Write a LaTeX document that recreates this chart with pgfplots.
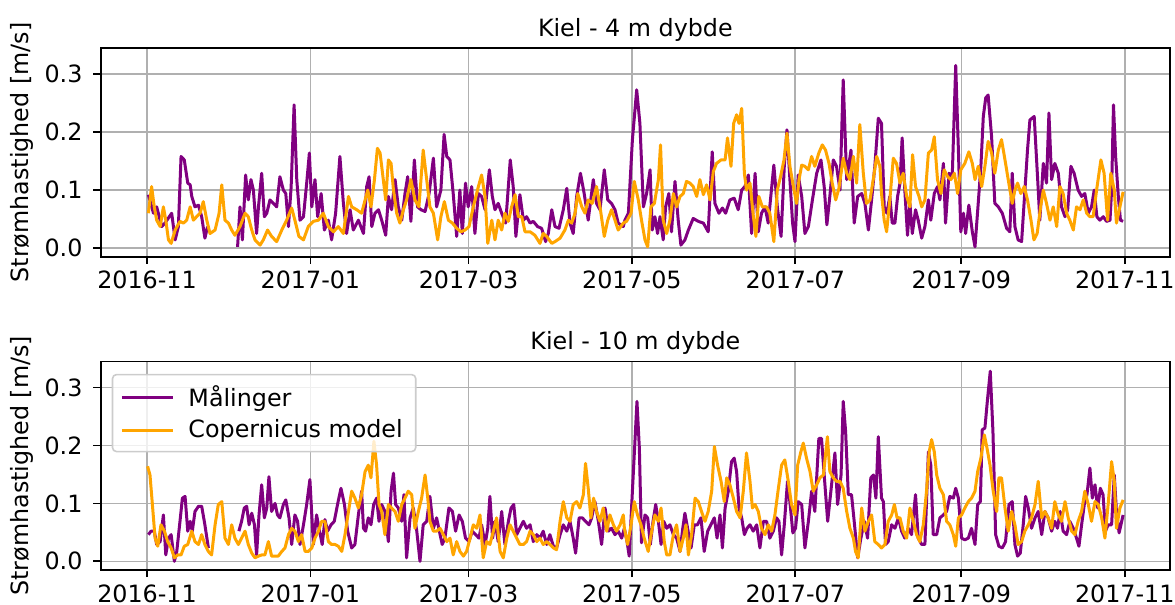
\documentclass[border=0pt]{standalone}
\usepackage{pgfplots}
\pgfplotsset{compat=1.18}
\usepackage{fontspec}
\setmainfont{DejaVu Sans}
\definecolor{gridc}{HTML}{B0B0B0}
\definecolor{mpurple}{HTML}{800080}
\definecolor{morange}{HTML}{FFA500}
\newcommand{\chartfont}{\fontsize{11.9}{14}\selectfont}
\pgfplotsset{kiel/.style={
  scale only axis, width=534.65pt, height=104.3pt, anchor=south west,
  xmin=-17.3, xmax=381.9, ymin=-0.015, ymax=0.345,
  xtick={0,61,120,181,242,304,365},
  xticklabels={2016-11,2017-01,2017-03,2017-05,2017-07,2017-09,2017-11},
  ytick={0,0.1,0.2,0.3}, yticklabels={0.0,0.1,0.2,0.3},
  grid=major, grid style={color=gridc, line width=0.8pt},
  axis line style={line width=0.85pt},
  tick align=outside, major tick length=3.6pt,
  tick style={black, line width=0.85pt},
  xtick pos=left, ytick pos=left,
  ticklabel style={font=\chartfont},
  xticklabel style={inner ysep=0pt, yshift=-3.5pt},
  yticklabel style={xshift=-2pt},
  ylabel={Strømhastighed [m/s]},
  ylabel style={font=\chartfont, at={(axis description cs:-0.0736,0.5)}, anchor=center},
  title style={font=\chartfont, at={(axis description cs:0.5,1)}, anchor=base, yshift=0pt},
  unbounded coords=jump,
  every axis plot/.append style={line width=1.5pt, line join=round},
}}
\begin{document}
\begin{tikzpicture}
\path[use as bounding box] (0,0) rectangle (587.5pt,302.5pt);
\begin{axis}[kiel, at={(50.35pt,174.15pt)}, title={Kiel - 4 m dybde}]
\addplot[mpurple] coordinates {(0.5,0.092)(2.4,0.060)(3.6,0.071)(5.5,0.037)(6.7,0.043)(9.2,0.060)(10.5,0.014)(11.7,0.037)(12.7,0.158)(13.9,0.152)(15.2,0.112)(16.1,0.109)(16.7,0.089)(17.9,0.071)(19.2,0.074)(20.4,0.054)(21.6,0.017)(22.6,0.037)(28,nan)(33.8,0.002)(34.7,0.071)(35.6,0.014)(36.8,0.126)(37.8,0.083)(38.8,0.118)(39.7,0.100)(40.9,0.025)(41.6,0.071)(42.8,0.129)(43.8,0.054)(44.7,0.060)(45.9,0.083)(47.2,0.077)(48.4,0.071)(49.6,0.123)(50.9,0.100)(51.8,0.094)(52.8,0.037)(53.8,0.106)(54.9,0.247)(55.9,0.118)(57.1,0.048)(58.4,0.054)(59.6,0.112)(60.6,0.164)(61.5,0.071)(62.7,0.118)(63.7,0.054)(65.0,0.094)(66.2,0.031)(67.7,0.048)(68.9,0.014)(70.4,0.060)(72.0,0.158)(73.3,0.077)(74.5,0.025)(75.8,0.066)(77.0,0.031)(78.9,0.048)(80.8,0.025)
(82.0,0.106)(82.9,0.123)(83.9,0.037)(85.1,0.060)(86.4,0.066)(87.6,0.048)(89.1,0.022)(90.1,0.089)(91.3,0.066)(92.6,0.118)(93.8,0.071)(95.1,0.048)(96.3,0.094)(97.3,0.123)(98.5,0.046)(99.8,0.152)(101.0,0.071)(102.3,0.066)(103.8,0.063)(105.3,0.094)(106.9,0.155)(108.1,0.071)(109.7,0.100)(110.9,0.196)(111.9,0.158)(113.1,0.152)(114.3,0.094)(115.6,0.020)(116.8,0.100)(117.7,0.025)(118.9,0.112)(119.9,0.071)(121.2,0.106)(122.4,0.025)(123.7,0.094)(124.9,0.089)(126.2,0.066)(127.8,0.135)(128.9,0.089)(129.9,0.066)(131.1,0.077)(132.4,0.060)(133.9,0.043)(135.6,0.152)(136.7,0.106)(137.7,0.020)(139.2,0.092)(140.5,0.048)(141.7,0.054)(143.0,0.043)(144.2,0.046)(145.8,0.037)(147.3,0.034)(148.8,0.011)(149.8,0.025)(151.1,0.066)(152.3,0.037)(153.8,0.034)(155.4,0.066)(156.7,0.103)(157.9,0.043)(159.1,0.025)(160.4,0.089)(161.8,0.129)(163.2,0.094)(164.7,0.048)(166.6,0.118)(167.8,0.077)(169.1,0.066)(170.7,0.135)(172.0,0.083)(173.4,0.077)(174.7,0.066)(175.9,0.043)(177.8,0.037)
(178.4,0.048)(179.7,0.060)(181.2,0.187)(182.8,0.273)(184.0,0.215)(185.3,0.071)(186.5,0.094)(187.8,0.135)(188.6,0.031)(189.6,0.054)(190.6,0.025)(191.5,0.054)(192.7,0.014)(193.6,0.071)(194.8,0.094)(195.8,0.028)(197.1,0.115)(198.3,0.048)(199.3,0.005)(200.8,0.014)(202.1,0.031)(203.9,0.051)(205.8,0.046)(207.7,0.043)(209.5,0.028)(211.0,0.166)(212.0,0.077)(213.5,0.060)(214.8,0.069)(216.0,0.060)(217.6,0.083)(219.2,0.086)(220.7,0.066)(222.0,0.100)(223.2,0.106)(224.5,0.126)(225.7,0.025)(227.0,0.129)(228.2,0.028)(229.4,0.060)(230.7,0.071)(231.9,0.043)(234.0,0.143)(235.3,0.071)(236.7,0.020)(237.9,0.141)(238.9,0.204)(240.0,0.118)(241.0,0.043)(241.9,0.011)(243.1,0.126)(244.4,0.089)(245.6,0.025)(246.9,0.037)(248.4,0.083)(250.0,0.129)(251.6,0.152)(252.8,0.106)(253.8,0.040)(254.9,0.089)(256.2,0.152)(257.4,0.141)(258.7,0.100)(259.9,0.290)(261.2,0.118)(262.8,0.169)(264.0,0.043)(265.3,0.089)(266.8,0.094)(268.0,0.077)(269.3,0.031)(270.5,0.083)(271.7,0.141)(273.0,0.224)(274.2,0.215)
(275.2,0.071)(276.2,0.060)(277.3,0.089)(278.2,0.043)(279.2,0.043)(280.2,0.089)(281.1,0.112)(281.9,0.190)(282.9,0.100)(283.9,0.022)(284.8,0.077)(285.7,0.025)(286.9,0.066)(287.9,0.048)(289.2,0.017)(290.4,0.037)(291.7,0.083)(292.6,0.048)(293.9,0.094)(295.1,0.106)(296.0,0.083)(297.3,0.146)(298.1,0.043)(299.4,0.129)(300.6,0.123)(301.9,0.315)(302.9,0.169)(303.8,0.028)(304.8,0.060)(305.6,0.025)(306.8,0.074)(308.1,0.028)(309.1,0.002)(310.3,0.077)(311.3,0.141)(312.2,0.227)(313.1,0.259)(314.0,0.264)(315.3,0.192)(316.5,0.077)(317.8,0.071)(319.3,0.060)(320.9,0.034)(322.1,0.028)(323.0,0.129)(324.0,0.037)(325.2,0.014)(326.5,0.011)(327.5,0.083)(328.7,0.169)(329.6,0.221)(331.2,0.227)(332.5,0.118)(333.3,0.048)(334.6,0.146)(335.8,0.112)(336.7,0.233)(337.7,0.118)(338.9,0.146)(340.2,0.129)(341.4,0.071)(342.7,0.054)(343.7,0.066)(344.9,0.141)(346.1,0.129)(347.6,0.100)(348.9,0.089)(350.1,0.094)(351.4,0.060)(352.6,0.071)(353.6,0.100)(354.6,0.054)(355.7,0.048)(357.0,0.054)(358.2,0.046)(359.5,0.048)(360.1,0.100)(360.8,0.247)(361.6,0.158)(362.6,0.089)(363.4,0.048)(364.4,0.046)};
\addplot[morange] coordinates {(0.5,0.060)(1.7,0.106)(2.7,0.071)(3.6,0.048)(4.9,0.037)(6.1,0.071)(7.0,0.048)(8.0,0.014)(9.0,0.008)(10.5,0.031)(12.3,0.046)(13.6,0.043)(14.8,0.048)(16.1,0.071)(17.3,0.048)(18.5,0.054)(19.8,0.060)(21.0,0.080)(22.3,0.048)(23.5,0.025)(25.4,0.031)(26.9,0.060)(27.9,0.109)(29.1,0.048)(30.4,0.043)(31.6,0.031)(32.8,0.022)(34.7,0.037)(36.6,0.060)(37.8,0.054)(39.1,0.031)(40.3,0.014)(42.2,0.005)(43.4,0.014)(45.0,0.031)(46.5,0.020)(48.4,0.011)(50.3,0.031)(52.1,0.048)(54.0,0.069)(55.2,0.048)(56.7,0.020)(58.4,0.014)(60.2,0.037)(62.1,0.046)(64.0,0.048)(65.8,0.060)(67.7,0.037)(69.6,0.028)(71.4,0.037)(73.3,0.025)(75.2,0.089)(76.4,0.071)(78.3,0.066)(80.1,0.060)
(82.4,0.100)(83.6,0.071)(84.9,0.118)(86.0,0.172)(87.0,0.164)(88.2,0.118)(89.1,0.083)(90.1,0.152)(91.1,0.146)(92.0,0.100)(93.2,0.060)(94.4,0.043)(95.7,0.066)(96.9,0.083)(98.5,0.118)(100.0,0.083)(101.5,0.071)(103.1,0.169)(104.4,0.118)(105.6,0.071)(106.9,0.060)(108.5,0.014)(109.7,0.054)(111.0,0.080)(112.5,0.048)(114.0,0.043)(115.6,0.034)(117.2,0.028)(118.7,0.031)(120.2,0.037)(121.8,0.071)(123.7,0.106)(124.9,0.126)(126.2,0.089)(127.2,0.008)(128.7,0.048)(129.9,0.014)(131.1,0.048)(132.4,0.031)(133.6,0.060)(134.9,0.046)(136.1,0.071)(137.4,0.092)(138.6,0.054)(139.9,0.054)(141.1,0.028)(143.0,0.028)(144.8,0.022)(146.7,0.008)(147.9,0.025)(149.2,0.020)(151.1,0.008)(152.3,0.011)(154.2,0.017)(156.0,0.031)(157.3,0.048)(158.5,0.043)(159.8,0.060)(160.8,0.094)(162.3,0.071)(163.5,0.060)(164.7,0.083)(166.2,0.077)(167.8,0.106)(169.1,0.071)(170.7,0.020)(172.0,0.048)(173.4,0.066)(174.7,0.048)(175.9,0.031)(177.8,0.043)
(179.0,0.046)(180.7,0.060)(181.9,0.115)(183.4,0.083)(184.6,0.048)(185.9,0.014)(186.9,0.002)(188.1,0.071)(189.4,0.077)(190.9,0.118)(191.7,0.178)(192.7,0.048)(194.0,0.025)(195.2,0.048)(196.5,0.094)(197.7,0.071)(199.0,0.089)(200.2,0.094)(201.4,0.115)(202.7,0.112)(203.9,0.106)(205.2,0.089)(206.4,0.118)(207.7,0.092)(208.9,0.109)(210.2,0.083)(211.4,0.132)(212.6,0.146)(214.3,0.152)(215.8,0.152)(216.7,0.190)(218.0,0.141)(219.0,0.215)(220.1,0.230)(221.0,0.215)(222.0,0.241)(223.0,0.129)(223.8,0.100)(225.1,0.112)(226.3,0.057)(227.3,0.020)(228.4,0.089)(229.7,0.071)(231.3,0.071)(232.5,0.060)(234.0,0.011)(235.3,0.100)(236.5,0.123)(237.8,0.152)(238.9,0.198)(240.0,0.141)(241.3,0.106)(242.5,0.077)(243.4,0.118)(244.4,0.143)(245.6,0.141)(246.9,0.135)(248.1,0.158)(249.3,0.141)(250.8,0.164)(252.1,0.178)(253.3,0.169)(254.6,0.146)(255.8,0.112)(257.1,0.083)(258.3,0.103)(259.9,0.155)(261.2,0.129)(262.4,0.118)(263.7,0.158)(264.9,0.112)(266.1,0.213)(267.4,0.129)(268.6,0.077)(269.9,0.083)(271.1,0.118)(272.4,0.158)(273.6,0.141)
(274.2,0.094)(275.2,0.048)(276.1,0.028)(277.3,0.083)(278.6,0.155)(279.8,0.146)(281.1,0.112)(282.3,0.129)(283.6,0.089)(284.8,0.071)(285.8,0.161)(286.9,0.106)(288.2,0.089)(289.2,0.071)(290.4,0.083)(291.7,0.164)(292.9,0.169)(293.9,0.192)(295.1,0.118)(296.4,0.094)(297.6,0.135)(298.9,0.123)(300.1,0.118)(301.4,0.129)(302.6,0.094)(303.8,0.135)(305.3,0.146)(306.8,0.166)(308.1,0.146)(309.1,0.118)(310.3,0.141)(311.6,0.106)(312.8,0.141)(314.0,0.184)(315.3,0.164)(316.5,0.129)(317.8,0.169)(319.0,0.187)(320.3,0.152)(321.5,0.118)(323.0,0.077)(324.0,0.100)(325.0,0.112)(326.2,0.094)(327.5,0.106)(328.7,0.083)(330.0,0.048)(331.1,0.014)(332.3,0.025)(333.6,0.071)(334.6,0.100)(335.8,0.077)(337.1,0.048)(338.3,0.071)(339.6,0.037)(340.8,0.106)(342.0,0.094)(343.3,0.060)(344.5,0.048)(345.8,0.031)(347.0,0.071)(348.3,0.066)(349.5,0.083)(350.8,0.060)(352.0,0.054)(353.2,0.054)(354.5,0.100)(356.1,0.152)(357.3,0.129)(358.6,0.048)(359.8,0.129)(361.1,0.100)(361.9,0.043)(363.2,0.071)(364.4,0.097)};
\end{axis}
\begin{axis}[kiel, at={(50.35pt,17.5pt)}, title={Kiel - 10 m dybde},
  legend cell align=left,
  legend image code/.code={\draw[#1] (0pt,0pt) -- (25.5pt,0pt);},
  legend style={at={(axis description cs:0,1)}, anchor=north west, xshift=5.5pt, yshift=-6.2pt,
    draw=black!20, line width=0.8pt, rounded corners=2pt, fill=white, fill opacity=0.8, text opacity=1,
    font=\chartfont, inner xsep=4pt, inner ysep=3pt, row sep=0pt,
    nodes={inner sep=2.5pt},
    /tikz/every odd column/.append style={column sep=4.5pt}}]
\addplot[mpurple] coordinates {(0.5,0.046)(1.5,0.052)(2.7,0.052)(3.6,0.029)(4.9,0.034)(6.1,0.080)(7.0,0.011)(8.0,0.040)(9.0,0.046)(10.2,0.000)(11.1,0.017)(12.3,0.069)(13.2,0.109)(14.2,0.112)(15.2,0.052)(16.1,0.069)(16.9,0.052)(17.9,0.086)(19.2,0.095)(20.4,0.095)(21.6,0.063)(22.9,0.023)(28,nan)(34.3,0.052)(35.3,0.069)(36.3,0.092)(37.2,0.095)(38.1,0.063)(39.1,0.083)(40.1,0.063)(40.9,0.011)(41.8,0.080)(42.8,0.132)(43.8,0.075)(44.7,0.092)(45.5,0.146)(46.5,0.086)(47.8,0.100)(48.7,0.080)(49.6,0.075)(50.9,0.098)(51.8,0.106)(53.0,0.075)(54.0,0.029)(55.2,0.080)(56.2,0.069)(57.1,0.029)(58.4,0.063)(59.6,0.098)(60.8,0.141)(62.1,0.029)(63.3,0.080)(64.2,0.057)(65.4,0.029)(66.4,0.072)(67.4,0.052)(68.7,0.063)(69.9,0.069)(71.2,0.100)(72.4,0.126)(73.7,0.098)(74.9,0.052)(76.4,0.023)(77.6,0.029)(78.9,0.080)(80.1,0.121)
(80.8,0.057)(81.6,0.052)(82.6,0.075)(83.6,0.063)(84.6,0.098)(85.7,0.109)(86.6,0.069)(87.6,0.098)(88.8,0.086)(90.1,0.034)(91.1,0.121)(92.0,0.152)(92.8,0.098)(93.8,0.092)(95.1,0.069)(95.9,0.115)(96.9,0.006)(98.2,0.075)(99.4,0.092)(100.7,0.052)(101.9,0.000)(103.1,0.063)(104.4,0.069)(105.6,0.112)(106.9,0.057)(108.1,0.075)(109.4,0.046)(110.2,0.029)(111.2,0.040)(112.7,0.092)(114.0,0.086)(115.2,0.052)(116.5,0.080)(117.7,0.069)(118.9,0.040)(120.2,0.034)(121.4,0.052)(122.7,0.046)(123.9,0.040)(124.9,0.063)(126.2,0.029)(127.2,0.057)(128.0,0.112)(129.0,0.040)(129.9,0.069)(131.1,0.034)(132.4,0.086)(133.6,0.029)(134.9,0.069)(135.9,0.092)(136.9,0.098)(138.0,0.046)(139.2,0.057)(140.5,0.069)(141.7,0.057)(143.0,0.063)(144.2,0.034)(145.5,0.046)(146.7,0.040)(147.9,0.052)(149.2,0.029)(150.4,0.046)(151.7,0.026)(152.9,0.023)(154.2,0.046)(155.4,0.063)(156.7,0.052)(157.9,0.069)(159.1,0.040)(160.0,0.014)(161.3,0.075)(162.5,0.075)(163.7,0.069)(165.0,0.063)(166.0,0.075)(167.2,0.103)(168.5,0.069)(169.7,0.029)(171.0,0.092)(172.2,0.052)(173.4,0.057)(174.7,0.046)(175.9,0.052)(177.2,0.040)
(178.2,0.057)(179.2,0.034)(180.0,0.009)(181.2,0.121)(182.2,0.212)(182.9,0.276)(183.8,0.195)(184.6,0.032)(185.9,0.080)(186.9,0.075)(187.9,0.029)(188.9,0.069)(189.9,0.098)(190.9,0.069)(191.9,0.029)(192.9,0.069)(194.0,0.057)(195.2,0.063)(196.5,0.046)(197.7,0.040)(199.0,0.017)(200.0,0.057)(200.8,0.083)(201.8,0.057)(203.1,0.023)(204.3,0.063)(205.5,0.063)(206.8,0.075)(208.0,0.017)(209.3,0.052)(210.5,0.063)(211.8,0.075)(212.8,0.040)(213.9,0.080)(214.8,0.023)(215.8,0.092)(217.0,0.121)(218.2,0.172)(219.2,0.178)(220.1,0.155)(221.0,0.092)(222.0,0.075)(223.0,0.046)(224.0,0.057)(225.1,0.063)(226.3,0.052)(227.6,0.063)(228.8,0.023)(230.1,0.069)(231.3,0.069)(232.5,0.040)(233.8,0.052)(235.0,0.075)(235.9,0.069)(236.9,0.011)(237.9,0.063)(239.1,0.138)(240.1,0.098)(241.1,0.049)(242.1,0.057)(243.1,0.103)(244.4,0.098)(245.6,0.023)(246.9,0.069)(248.1,0.121)(249.3,0.086)(250.8,0.212)(251.8,0.212)(252.8,0.149)(254.1,0.069)(255.3,0.121)(256.8,0.187)(257.8,0.098)(259.1,0.149)(259.9,0.276)(260.8,0.224)(261.8,0.115)(263.0,0.115)(264.0,0.069)(265.3,0.006)(266.5,0.040)(267.8,0.069)(269.0,0.040)(270.2,0.144)(271.2,0.149)(272.1,0.109)(273.0,0.215)(274.2,0.109)
(274.9,0.103)(275.7,0.029)(276.7,0.034)(278.0,0.063)(279.2,0.057)(280.5,0.075)(281.7,0.052)(282.9,0.040)(284.2,0.057)(285.4,0.046)(286.9,0.115)(287.9,0.040)(289.2,0.029)(290.4,0.029)(291.7,0.189)(292.6,0.166)(293.5,0.046)(294.8,0.046)(296.0,0.075)(297.3,0.080)(298.5,0.086)(299.7,0.112)(301.0,0.109)(301.9,0.126)(302.9,0.109)(304.1,0.040)(305.3,0.037)(306.6,0.040)(307.8,0.057)(309.1,0.029)(310.1,0.098)(311.1,0.103)(311.8,0.227)(312.8,0.230)(313.8,0.281)(314.8,0.328)(315.8,0.224)(316.8,0.046)(318.0,0.026)(319.3,0.023)(320.5,0.034)(321.8,0.098)(323.0,0.103)(324.0,0.029)(325.0,0.009)(326.0,0.014)(327.1,0.063)(328.0,0.112)(329.0,0.092)(330.2,0.057)(331.5,0.075)(332.7,0.086)(334.0,0.046)(335.2,0.086)(336.4,0.075)(337.7,0.052)(338.9,0.069)(339.9,0.057)(340.9,0.086)(342.0,0.052)(343.3,0.046)(344.5,0.069)(345.8,0.057)(347.0,0.040)(347.9,0.026)(348.9,0.063)(349.9,0.098)(350.9,0.115)(352.0,0.161)(352.9,0.109)(353.9,0.132)(354.9,0.092)(355.9,0.126)(356.9,0.115)(357.8,0.052)(358.8,0.063)(360.1,0.063)(361.1,0.149)(361.9,0.086)(362.9,0.049)(364.4,0.080)};
\addlegendentry{Målinger}
\addplot[morange] coordinates {(0.2,0.164)(1.1,0.149)(2.0,0.098)(3.0,0.040)(4.0,0.026)(5.2,0.063)(6.5,0.052)(7.7,0.034)(9.0,0.023)(10.2,0.006)(11.4,0.011)(12.7,0.011)(13.9,0.026)(15.2,0.029)(16.7,0.052)(17.9,0.034)(19.2,0.029)(20.4,0.046)(21.6,0.029)(22.9,0.017)(24.1,0.011)(25.4,0.063)(26.6,0.098)(27.9,0.103)(29.1,0.040)(30.4,0.029)(31.6,0.063)(32.8,0.040)(34.1,0.029)(35.3,0.040)(36.6,0.052)(37.8,0.029)(39.1,0.014)(40.3,0.006)(41.6,0.009)(42.8,0.011)(44.0,0.011)(45.3,0.034)(46.5,0.009)(47.8,0.009)(49.0,0.009)(50.3,0.017)(51.5,0.023)(52.8,0.046)(54.0,0.057)(55.2,0.052)(56.5,0.034)(57.7,0.046)(59.0,0.017)(60.2,0.017)(61.5,0.023)(62.7,0.040)(64.0,0.052)(65.2,0.069)(66.4,0.069)(67.7,0.034)(68.9,0.029)(70.2,0.029)(71.4,0.026)(72.7,0.017)(73.9,0.046)(75.2,0.086)(76.4,0.121)(77.6,0.109)(78.9,0.092)(80.1,0.115)(81.4,0.155)
(82.6,0.166)(83.6,0.144)(84.7,0.207)(85.7,0.166)(86.6,0.098)(87.6,0.086)(88.8,0.046)(90.1,0.098)(91.3,0.092)(92.6,0.086)(93.8,0.069)(95.1,0.098)(96.3,0.109)(97.5,0.121)(98.8,0.115)(100.0,0.057)(101.3,0.086)(102.5,0.109)(103.8,0.149)(104.8,0.109)(105.6,0.069)(106.9,0.052)(108.1,0.052)(109.4,0.057)(110.6,0.046)(111.9,0.034)(113.1,0.040)(114.3,0.011)(115.6,0.034)(116.8,0.017)(118.1,0.009)(119.3,0.017)(120.6,0.040)(121.8,0.063)(123.1,0.057)(124.3,0.080)(125.5,0.006)(126.8,0.034)(128.0,0.029)(129.3,0.052)(130.5,0.075)(131.8,0.017)(133.0,0.006)(134.3,0.040)(135.5,0.063)(136.7,0.052)(138.0,0.040)(139.2,0.029)(140.5,0.029)(141.7,0.034)(143.0,0.052)(144.2,0.046)(145.5,0.034)(146.7,0.040)(147.9,0.029)(149.2,0.034)(150.4,0.029)(151.7,0.023)(152.9,0.020)(154.2,0.069)(155.4,0.103)(156.7,0.075)(157.9,0.069)(159.1,0.098)(160.4,0.103)(161.6,0.092)(162.9,0.115)(163.7,0.169)(164.7,0.126)(165.7,0.075)(166.7,0.109)(167.8,0.086)(169.1,0.069)(170.3,0.092)(171.6,0.052)(172.8,0.080)(174.1,0.063)(175.3,0.052)(176.6,0.063)(177.8,0.080)
(178.2,0.057)(179.4,0.029)(180.7,0.063)(181.9,0.103)(183.1,0.080)(184.4,0.063)(185.6,0.040)(187.1,0.017)(188.4,0.052)(189.6,0.080)(190.9,0.069)(191.9,0.092)(193.1,0.034)(194.0,0.011)(195.2,0.011)(196.5,0.046)(197.7,0.063)(199.0,0.017)(200.2,0.040)(201.2,0.063)(202.1,0.011)(203.3,0.046)(204.6,0.109)(205.8,0.103)(207.0,0.086)(208.3,0.069)(209.5,0.086)(210.8,0.121)(211.8,0.198)(213.0,0.166)(214.3,0.138)(215.5,0.103)(216.4,0.144)(217.6,0.132)(218.9,0.109)(220.1,0.086)(221.4,0.075)(222.6,0.121)(223.8,0.187)(225.1,0.138)(226.0,0.092)(227.0,0.098)(228.2,0.086)(229.4,0.057)(230.7,0.046)(231.9,0.063)(233.2,0.052)(234.4,0.080)(235.7,0.126)(236.9,0.166)(238.1,0.175)(239.4,0.138)(240.6,0.098)(241.9,0.080)(242.9,0.166)(244.1,0.189)(245.0,0.204)(246.2,0.178)(247.5,0.155)(248.7,0.121)(250.0,0.132)(251.2,0.144)(252.5,0.149)(254.0,0.215)(254.9,0.155)(256.2,0.144)(257.4,0.138)(258.7,0.138)(259.9,0.126)(261.2,0.086)(262.4,0.057)(263.7,0.040)(264.5,0.017)(265.5,0.006)(266.8,0.092)(268.0,0.052)(269.3,0.069)(270.5,0.080)(271.7,0.034)(273.0,0.029)(274.2,0.023)
(275.5,0.029)(276.7,0.069)(278.0,0.080)(279.0,0.098)(280.0,0.075)(281.1,0.075)(282.3,0.052)(283.6,0.040)(284.8,0.092)(286.1,0.069)(287.3,0.046)(288.5,0.034)(289.8,0.063)(291.0,0.121)(292.0,0.189)(292.9,0.210)(293.9,0.189)(294.8,0.149)(296.0,0.126)(297.3,0.115)(298.5,0.069)(299.7,0.063)(301.0,0.046)(301.9,0.026)(302.9,0.075)(304.1,0.080)(305.3,0.092)(306.6,0.103)(307.8,0.109)(309.1,0.121)(310.1,0.155)(311.3,0.178)(312.6,0.218)(313.6,0.195)(314.7,0.166)(315.9,0.121)(317.2,0.086)(318.0,0.144)(319.0,0.144)(320.3,0.092)(321.5,0.052)(322.8,0.086)(324.0,0.063)(325.2,0.029)(326.5,0.034)(327.7,0.052)(329.0,0.063)(330.2,0.075)(331.5,0.098)(332.7,0.138)(334.0,0.075)(335.2,0.086)(336.4,0.075)(337.7,0.057)(338.9,0.103)(340.2,0.080)(341.4,0.069)(342.7,0.103)(343.9,0.075)(345.2,0.052)(346.4,0.046)(347.6,0.069)(348.9,0.086)(350.1,0.121)(351.4,0.098)(352.6,0.069)(353.9,0.103)(355.1,0.098)(356.4,0.075)(357.6,0.040)(358.8,0.098)(360.1,0.172)(361.1,0.138)(361.9,0.057)(363.2,0.092)(364.4,0.106)};
\addlegendentry{Copernicus model}
\end{axis}
\end{tikzpicture}
\end{document}
